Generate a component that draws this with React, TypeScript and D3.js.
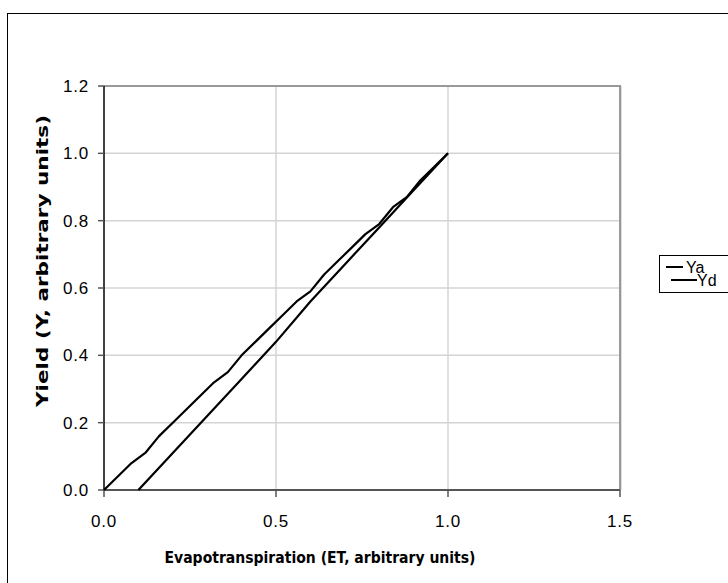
import React from "react";
import * as d3 from "d3";

const yaX = [0, 0.04, 0.08, 0.12, 0.16, 0.2, 0.24, 0.28, 0.32, 0.36, 0.4, 0.44, 0.48, 0.52, 0.56, 0.6, 0.64, 0.68, 0.72, 0.76, 0.8, 0.84, 0.88, 0.92, 0.96, 1.0];
const yaY = [0, 0.04, 0.08, 0.11, 0.16, 0.2, 0.24, 0.28, 0.32, 0.35, 0.4, 0.44, 0.48, 0.52, 0.56, 0.59, 0.64, 0.68, 0.72, 0.76, 0.79, 0.84, 0.87, 0.92, 0.96, 1.0];
const ydX = [0.1, 0.2, 0.3, 0.4, 0.5, 0.6, 0.7, 0.8, 0.9, 1.0];
const ydY = [0, 0.11, 0.22, 0.33, 0.44, 0.56, 0.67, 0.78, 0.89, 1.0];
const xTicks = [0, 0.5, 1.0, 1.5];
const yTicks = [0, 0.2, 0.4, 0.6, 0.8, 1.0, 1.2];
const seriesNames = ["Ya", "Yd"];

const W = 728;
const H = 583;
const left = 104;
const right = 620;
const top = 86;
const bottom = 490;

export default function App() {
  const x = d3.scaleLinear().domain([0, 1.5]).range([left, right]);
  const y = d3.scaleLinear().domain([0, 1.2]).range([bottom, top]);
  const line = d3
    .line<[number, number]>()
    .x((d) => x(d[0]))
    .y((d) => y(d[1]));
  const ya: [number, number][] = yaX.map((v, i) => [v, yaY[i]]);
  const yd: [number, number][] = ydX.map((v, i) => [v, ydY[i]]);
  const tickFont = "'Liberation Sans', Arial, sans-serif";
  const titleFont = "'DejaVu Sans', Verdana, sans-serif";

  return (
    <svg
      width={W}
      height={H}
      style={{ position: "absolute", left: 0, top: 0, background: "#fff" }}
    >
      <rect x={0} y={0} width={W} height={H} fill="#fff" />
      <rect x={7.5} y={13.5} width={900} height={900} fill="#fff" stroke="#000" strokeWidth={1} />
      {/* gridlines */}
      {yTicks.filter((t) => t > 0 && t < 1.2).map((t) => (
        <line key={"gy" + t} x1={left} x2={right} y1={y(t)} y2={y(t)} stroke="#d4d4d4" strokeWidth={1.5} />
      ))}
      {xTicks.filter((t) => t > 0 && t < 1.5).map((t) => (
        <line key={"gx" + t} x1={x(t)} x2={x(t)} y1={top} y2={bottom} stroke="#d4d4d4" strokeWidth={1.5} />
      ))}
      {/* plot border top/right */}
      <line x1={left} x2={right + 1} y1={top} y2={top} stroke="#999" strokeWidth={2} />
      <line x1={right} x2={right} y1={top} y2={bottom} stroke="#999" strokeWidth={2} />
      <line x1={right + 1.5} x2={right + 1.5} y1={top} y2={bottom} stroke="#ddd" strokeWidth={1} />
      {/* axes */}
      <line x1={left} x2={right} y1={bottom} y2={bottom} stroke="#555" strokeWidth={2} />
      <line x1={left} x2={left} y1={top} y2={bottom + 1} stroke="#000" strokeWidth={1.5} />
      {yTicks.map((t) => (
        <g key={"ty" + t}>
          <line x1={left - 6} x2={left} y1={y(t)} y2={y(t)} stroke="#555" strokeWidth={1.5} />
          <text
            x={89}
            y={y(t)}
            dy="0.36em"
            textAnchor="end"
            fontFamily={tickFont}
            fontSize={17}
            letterSpacing={0.8}
            fill="#000"
          >
            {t.toFixed(1)}
          </text>
        </g>
      ))}
      {xTicks.map((t) => (
        <g key={"tx" + t}>
          <line x1={x(t)} x2={x(t)} y1={bottom} y2={bottom + 7} stroke="#555" strokeWidth={1.5} />
          <text
            x={x(t)}
            y={527}
            textAnchor="middle"
            fontFamily={tickFont}
            fontSize={17}
            letterSpacing={0.8}
            fill="#000"
          >
            {t.toFixed(1)}
          </text>
        </g>
      ))}
      {/* series */}
      <path d={line(ya) || ""} fill="none" stroke="#000" strokeWidth={2.2} strokeLinejoin="round" />
      <path d={line(yd) || ""} fill="none" stroke="#000" strokeWidth={2.2} strokeLinejoin="round" />
      {/* titles */}
      <text
        x={320}
        y={563}
        textAnchor="middle"
        fontFamily={titleFont}
        fontWeight="bold"
        fontSize={16}
        textLength={311}
        lengthAdjust="spacingAndGlyphs"
        fill="#000"
      >
        Evapotranspiration (ET, arbitrary units)
      </text>
      <text
        transform={`translate(48,261) rotate(-90)`}
        textAnchor="middle"
        fontFamily={titleFont}
        fontWeight="bold"
        fontSize={16}
        textLength={292}
        lengthAdjust="spacingAndGlyphs"
        fill="#000"
      >
        Yield (Y, arbitrary units)
      </text>
      {/* legend */}
      <rect x={659.5} y={255.5} width={120} height={37} fill="#fff" stroke="#000" strokeWidth={1} />
      <line x1={666} x2={683} y1={267} y2={267} stroke="#000" strokeWidth={2} />
      <text x={686} y={267} dy="0.36em" fontFamily={tickFont} fontSize={16} fill="#000">
        {seriesNames[0]}
      </text>
      <line x1={671} x2={697} y1={280} y2={280} stroke="#000" strokeWidth={2} />
      <text x={697} y={280} dy="0.36em" fontFamily={tickFont} fontSize={16} fill="#000">
        {seriesNames[1]}
      </text>
    </svg>
  );
}
